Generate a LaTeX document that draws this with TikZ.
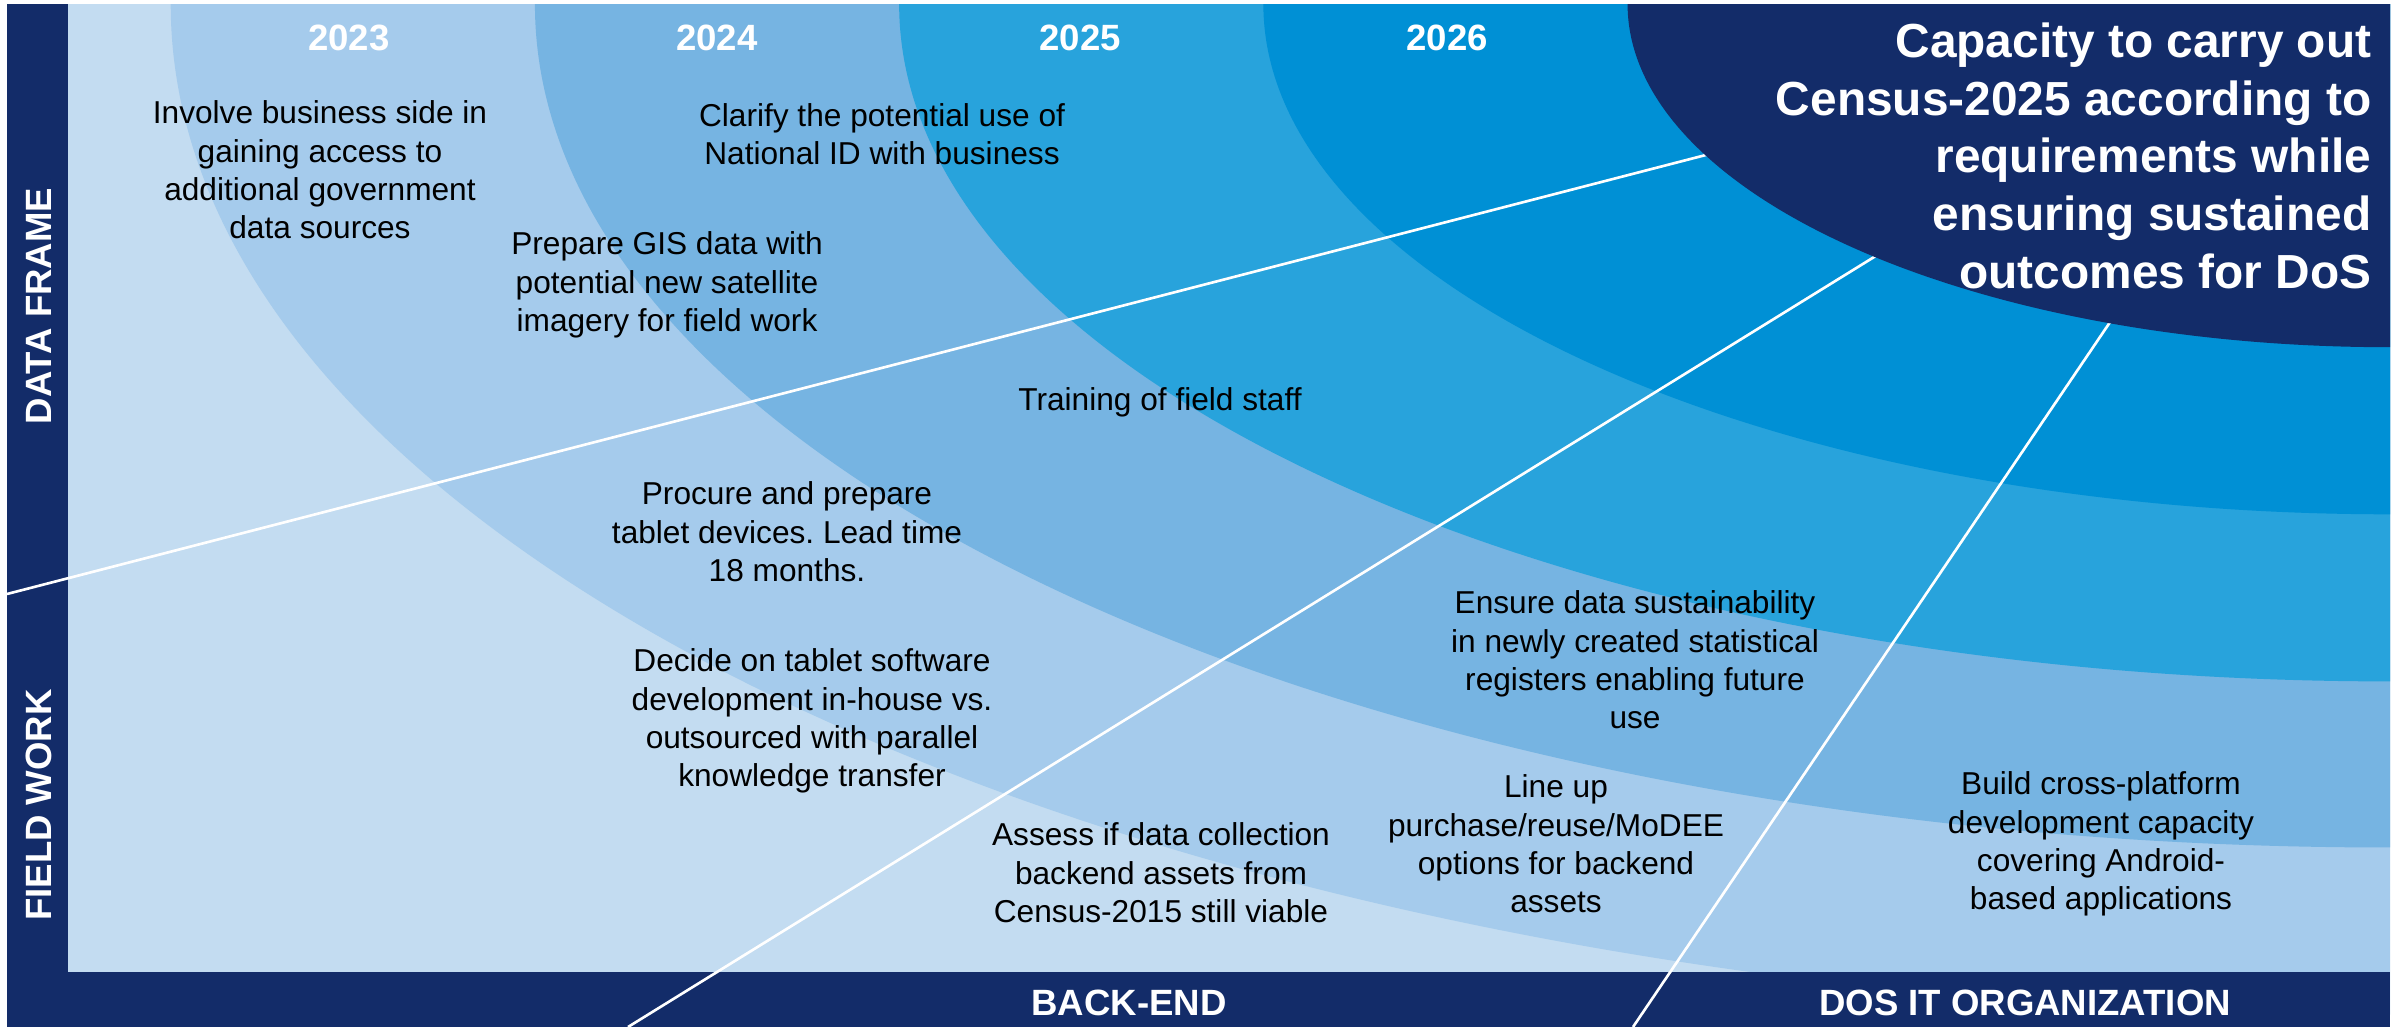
\documentclass[tikz,border=0pt]{standalone}
\usepackage{fontspec}
\setmainfont{Liberation Sans}
\frenchspacing
\definecolor{navy}{RGB}{19,44,105}
\definecolor{cA}{RGB}{0,144,213}
\definecolor{cB}{RGB}{40,163,220}
\definecolor{cC}{RGB}{118,180,226}
\definecolor{cD}{RGB}{165,203,236}
\definecolor{cE}{RGB}{195,220,241}
\tikzset{
  body/.style={font=\fontsize{9}{10.9}\selectfont, align=center, inner sep=0pt, text=black},
  yearlbl/.style={font=\fontsize{10.4}{12}\selectfont\bfseries, text=white, inner sep=0pt},
  barlbl/.style={font=\fontsize{10.4}{12}\selectfont\bfseries, text=white, inner sep=0pt},
  goal/.style={font=\fontsize{13.6}{16.4}\selectfont\bfseries, text=white, align=right, inner sep=0pt},
  divider/.style={draw=white, line width=0.75pt}
}
\begin{document}
\begin{tikzpicture}[x=0.01cm,y=-0.01cm]
\useasboundingbox (0,0) rectangle (2397,1027);
\fill[white] (0,0) rectangle (2397,1027);
% bands
\begin{scope}
\clip (7,4) rectangle (2390,1027);
\fill[cE] (7,4) rectangle (2390,1027);
\fill[cD] (2390,4) ellipse [x radius=22.18cm, y radius=10.10cm];
\fill[cC] (2390,4) ellipse [x radius=18.54cm, y radius=8.43cm];
\fill[cB] (2390,4) ellipse [x radius=14.90cm, y radius=6.77cm];
\fill[cA] (2390,4) ellipse [x radius=11.26cm, y radius=5.10cm];
\end{scope}
% bars
\fill[navy] (7,4) rectangle (68,1027);
\fill[navy] (7,972) rectangle (2390,1027);
% dividers
\coordinate (l1a) at (7,594);
\coordinate (l1b) at (1760,141);
\coordinate (l2a) at (628,1027);
\coordinate (l2b) at (1900,241);
\coordinate (l3a) at (1633,1027);
\coordinate (l3b) at (2125,300);
\draw[divider] (l1a) -- (l1b);
\draw[divider] (l2a) -- (l2b);
\draw[divider] (l3a) -- (l3b);
% goal ellipse
\begin{scope}
\clip (7,4) rectangle (2390,1027);
\fill[navy] (2390,4) ellipse [x radius=7.62cm, y radius=3.43cm];
\end{scope}
\node[goal, anchor=north east] (goal) at (2372,22) {Capacity to carry out\\Census-2025 according to\\requirements while\\ensuring sustained\\outcomes for DoS};
% years
\node[yearlbl] (y23) at (349,38) {2023};
\node[yearlbl] (y24) at (717,38) {2024};
\node[yearlbl] (y25) at (1080,38) {2025};
\node[yearlbl] (y26) at (1447,38) {2026};
% side and bottom labels
\node[barlbl, rotate=90] (df) at (39,306) {DATA FRAME};
\node[barlbl, rotate=90] (fw) at (39,805) {FIELD WORK};
\node[barlbl] (be) at (1129,1003) {BACK-END};
\node[barlbl] (dos) at (2025,1003) {DOS IT ORGANIZATION};
% activities
\node[body] (t1) at (320,170) {Involve business side in\\gaining access to\\additional government\\data sources};
\node[body] (t2) at (882,134) {Clarify the potential use of\\National ID with business};
\node[body] (t3) at (667,285) {Prepare GIS data with\\potential new satellite\\imagery for field work};
\node[body] (t4) at (1160,402) {Training of field staff};
\node[body] (t5) at (787,532) {Procure and prepare\\tablet devices. Lead time\\18 months.};
\node[body] (t6) at (812,721) {Decide on tablet software\\development in-house vs.\\outsourced with parallel\\knowledge transfer};
\node[body] (t7) at (1161,873) {Assess if data collection\\backend assets from\\Census-2015 still viable};
\node[body] (t8) at (1635,660) {Ensure data sustainability\\in newly created statistical\\registers enabling future\\use};
\node[body] (t9) at (1556,844) {Line up\\purchase/reuse/MoDEE\\options for backend\\assets};
\node[body] (t10) at (2101,844) {Build cross-platform\\development capacity\\covering Android-\\based applications};
\end{tikzpicture}
\end{document}
